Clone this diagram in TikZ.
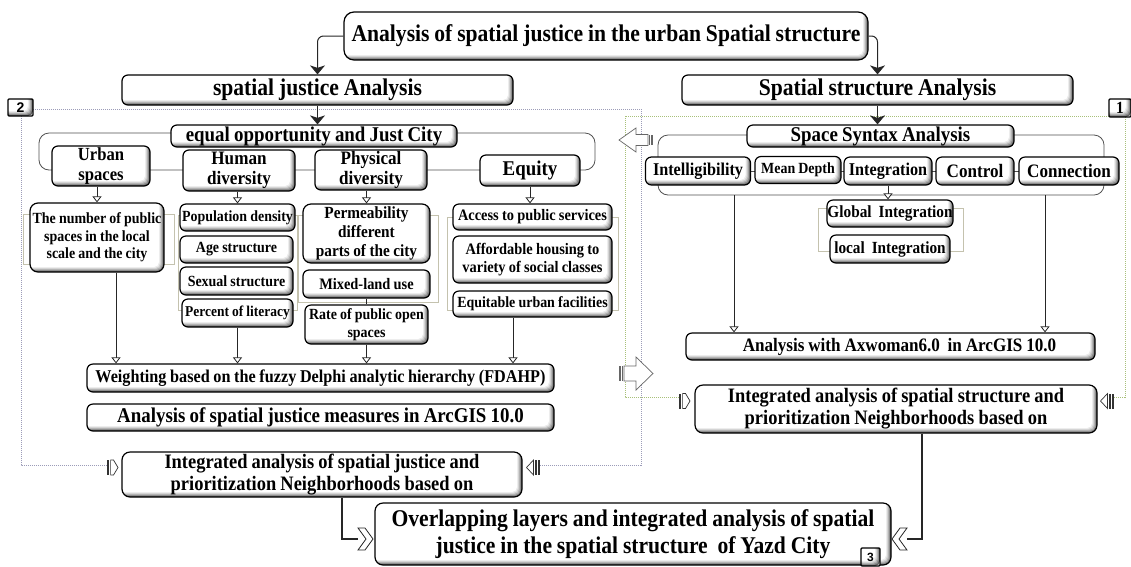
\documentclass[tikz,border=0pt]{standalone}
\usepackage{fontspec}
\setmainfont{Liberation Serif}[FakeStretch=0.9,WordSpace=0.9]
\setsansfont{Liberation Sans}
\usetikzlibrary{arrows.meta,calc}
\newcommand{\fsz}[2]{\fontsize{#1}{#2}\selectfont\bfseries}
\definecolor{dotB}{HTML}{9C9CB8}
\definecolor{dotG}{HTML}{A8C07A}
\definecolor{olv}{HTML}{C4C2AE}
\definecolor{brk}{HTML}{505050}
\tikzset{
  bev/.style={draw=black, line width=1.2pt, rounded corners=#1, fill=white,
    path picture={
      \foreach \d/\c in {0pt/62,1pt/46,2pt/31,3pt/18,4pt/8}{
        \fill[black!\c, rounded corners=5pt]
          ([xshift=-3pt,yshift=3pt]path picture bounding box.north west)
          rectangle ([xshift=-\d,yshift=\d]path picture bounding box.south east);
      }
      \fill[white, rounded corners=5pt]
          ([xshift=-3pt,yshift=3pt]path picture bounding box.north west)
          rectangle ([xshift=-5pt,yshift=5pt]path picture bounding box.south east);
    }},
  bev/.default=6pt,
  box/.style={bev=#1, inner sep=0pt, align=center},
  box/.default=6pt,
  lbl/.style={bev=1pt, inner sep=0pt, align=center},
  blk/.style={draw=black!85, line width=1pt, rounded corners=6pt,
    -{Stealth[length=9pt,width=15pt,inset=2.5pt]}},
  opn/.style={draw=black!85, line width=0.8pt,
    -{Triangle[open,length=6pt,width=9pt,fill=white]}},
  thin/.style={draw=black!85, line width=0.8pt},
  grpB/.style={draw=dotB, line width=0.8pt, dash pattern=on 0.8pt off 1.2pt},
  grpG/.style={draw=dotG, line width=0.8pt, dash pattern=on 0.8pt off 1.2pt},
  olvbr/.style={draw=olv, line width=0.8pt},
  rowbr/.style={draw=brk, line width=0.8pt, rounded corners=10pt},
  barrow/.pic={
    \draw[draw=black!60, line width=0.7pt, fill=white]
      (5,-7.5) -- (17,-7.5) -- (17,-16.5) -- (34,0) -- (17,16.5) -- (17,7.5) -- (5,7.5) -- cycle;
    \fill[black!60] (0,-7.5) rectangle (1.6,7.5);
    \fill[black!60] (2.6,-7.5) rectangle (4.2,7.5);
  },
  mkL/.pic={
    \fill[black!80] (0,-7.5) rectangle (2.2,7.5);
    \draw[black!80, line width=0.7pt, fill=white]
      (3.6,-7.5) -- (6.5,-7.5) -- (11,0) -- (6.5,7.5) -- (3.6,7.5) -- cycle;
  },
  mkR/.pic={
    \draw[black!80, line width=0.7pt, fill=white]
      (7.5,-7.5) -- (0.5,0) -- (7.5,7.5) -- cycle;
    \fill[black!80] (9.2,-7.5) rectangle (10.6,7.5);
    \fill[black!80] (12,-7.5) rectangle (13.6,7.5);
  },
  chev/.pic={
    \draw[black!85, line width=0.8pt, fill=white]
      (0,-11) -- (7,-11) -- (15,0) -- (7,11) -- (0,11) -- (8,0) -- cycle;
  },
}
\begin{document}
\begin{tikzpicture}[x=1pt,y=-1pt]
\useasboundingbox (0,0) rectangle (1131,566);

% group frames
\draw[grpB] (107,465) -- (21,465) -- (21,109) -- (641,109) -- (641,465) -- (540,465);
\draw[grpG] (679,397) -- (625,397) -- (625,116) -- (1125,116) -- (1125,397) -- (1114,397);

% brackets behind the rows
\draw[rowbr] (39,133) rectangle (595,170);
\draw[rowbr] (658,135) rectangle (1104,195);
\draw[brk, line width=0.8pt] (698,171) -- (1069,171);
\draw[olvbr] (23,214) rectangle (174,264);
\draw[olvbr] (178,215) rectangle (297,310);
\draw[olvbr] (298,215) rectangle (438,302);
\draw[olvbr] (447,217) rectangle (618,310);
\draw[olvbr] (818,208) rectangle (963,251);

% main boxes
\node[box=10pt, minimum width=524pt, minimum height=48pt, font=\fsz{24}{26}] (title) at (606,36)
  {Analysis of spatial justice in the urban Spatial structure};
\node[box, minimum width=391pt, minimum height=30pt, font=\fsz{24}{26}] (sja) at (317.5,90) {spatial justice Analysis};
\node[box, minimum width=391pt, minimum height=30pt, font=\fsz{24}{26}] (ssa) at (877.5,90) {Spatial structure Analysis};

% spatial justice side
\node[box, minimum width=286pt, minimum height=22pt, font=\fsz{21}{22}] (eqo) at (314,136) {equal opportunity and Just City};
\node[box, minimum width=98pt, minimum height=40pt, font=\fsz{18.5}{19.5}] (urban) at (101,166) {Urban\\spaces};
\node[box, minimum width=112pt, minimum height=41pt, font=\fsz{19}{20}] (human) at (239,170.5) {Human\\diversity};
\node[box, minimum width=112pt, minimum height=40pt, font=\fsz{19}{20}] (phys) at (371,170) {Physical\\diversity};
\node[box, minimum width=100pt, minimum height=31pt, font=\fsz{21}{21}] (equity) at (530,170.5) {Equity};

\node[box=8pt, minimum width=134pt, minimum height=69pt, font=\fsz{15.5}{17.5}] (pubsp) at (97,237.5)
  {The number of public\\spaces in the local\\scale and the city};
\node[box, minimum width=115pt, minimum height=27pt, font=\fsz{15.5}{17}] (popd) at (237.5,217.5) {Population density};
\node[box, minimum width=113pt, minimum height=27pt, font=\fsz{15.5}{17}] (age) at (236.5,249.5) {Age structure};
\node[box, minimum width=113pt, minimum height=28pt, font=\fsz{15.5}{17}] (sex) at (236.5,281) {Sexual structure};
\node[box, minimum width=111pt, minimum height=28pt, font=\fsz{15}{17}] (lit) at (237.5,313) {Percent of literacy};
\node[box=8pt, minimum width=127pt, minimum height=59pt, font=\fsz{17}{19}] (perm) at (366.5,233.5)
  {Permeability\\different\\parts of the city};
\node[box, minimum width=127pt, minimum height=28pt, font=\fsz{16}{17}] (mixed) at (366.5,284) {Mixed-land use};
\node[box, minimum width=123pt, minimum height=39pt, font=\fsz{15.5}{17.5}] (rate) at (366.5,324.5) {Rate of public open\\spaces};
\node[box, minimum width=159pt, minimum height=26pt, font=\fsz{16}{17}] (access) at (532.5,217) {Access to public services};
\node[box, minimum width=159pt, minimum height=47pt, font=\fsz{16}{17.5}] (afford) at (532.5,259.5)
  {Affordable housing to\\variety of social classes};
\node[box, minimum width=159pt, minimum height=26pt, font=\fsz{15.5}{17}] (equit) at (532.5,304) {Equitable urban facilities};

\node[box, minimum width=467pt, minimum height=28pt, font=\fsz{18}{20}] (wgt) at (320.5,378)
  {Weighting based on the fuzzy Delphi analytic hierarchy (FDAHP)};
\node[box, minimum width=467pt, minimum height=27pt, font=\fsz{21}{22}] (arc) at (320.5,417.5)
  {Analysis of spatial justice measures in ArcGIS 10.0};
\node[box=8pt, minimum width=400pt, minimum height=45pt, font=\fsz{20.5}{21.5}] (intJ) at (322,474.5)
  {Integrated analysis of spatial justice and\\prioritization Neighborhoods based on};

% spatial structure side
\node[box, minimum width=267pt, minimum height=22pt, font=\fsz{21}{22}] (ssx) at (880.5,136) {Space Syntax Analysis};
\node[box, minimum width=105pt, minimum height=28pt, font=\fsz{18}{19}] (intel) at (698,171) {Intelligibility};
\node[box, minimum width=86pt, minimum height=27pt, font=\fsz{15.5}{17}] (mean) at (798,170) {Mean Depth};
\node[box, minimum width=88pt, minimum height=28pt, font=\fsz{18}{19}] (integ) at (888,171) {Integration};
\node[box, minimum width=78pt, minimum height=28pt, font=\fsz{19}{20}] (ctrl) at (975,171) {Control};
\node[box, minimum width=100pt, minimum height=28pt, font=\fsz{19}{20}] (conn) at (1069,171) {Connection};
\node[box, minimum width=126pt, minimum height=27pt, font=\fsz{17}{18}] (glob) at (890,213.5) {Global\ \ Integration};
\node[box, minimum width=120pt, minimum height=28pt, font=\fsz{17}{18}] (loc) at (890,249) {local\ \ Integration};
\node[box, minimum width=409pt, minimum height=27pt, font=\fsz{19}{20}] (axw) at (890.5,346.5)
  {\hspace{18pt}Analysis with Axwoman6.0\ \ in ArcGIS 10.0};
\node[box=8pt, minimum width=402pt, minimum height=48pt, font=\fsz{20.5}{22}] (intS) at (896,409)
  {Integrated analysis of spatial structure and\\prioritization Neighborhoods based on};

% final box
\node[box=8pt, minimum width=516pt, minimum height=62pt, font=\fsz{24}{27}] (fin) at (633,534)
  {Overlapping layers and integrated analysis of spatial\\justice in the spatial structure\ \ of Yazd City};

% number labels
\node[lbl, minimum width=25pt, minimum height=17pt, font=\sffamily\bfseries\fontsize{14}{14}\selectfont] (n2) at (20.5,107.5) {2};
\node[lbl, minimum width=22pt, minimum height=18pt, font=\fsz{17}{17}] (n1) at (1120,108) {1};
\node[lbl, minimum width=19pt, minimum height=18pt, font=\sffamily\bfseries\fontsize{12}{12}\selectfont] (n3) at (870.5,557) {3};

% column positions of the long connectors
\coordinate (cA) at (116,0);
\coordinate (cE) at (513,0);
\coordinate (cJ) at (342,0);
\coordinate (cS) at (922,0);
\coordinate (bI) at (734,195);
\coordinate (bC) at (1045,195);
\coordinate (chvL) at (358,539);
\coordinate (chvR) at (907,539);

% connectors
\draw[blk] (title.west) -| (sja.north);
\draw[blk] (title.east) -| (ssa.north);
\draw[blk] (sja.south) -- (sja.south |- eqo.north);
\draw[blk] (ssa.south) -- (ssa.south |- ssx.north);

\draw[opn] (pubsp.north |- urban.south) -- (pubsp.north);
\draw[opn] (popd.north |- human.south) -- (popd.north);
\draw[opn] (perm.north |- phys.south) -- (perm.north);
\draw[opn] (equity.south) -- (equity.south |- access.north);

\draw[opn] (pubsp.south -| cA) -- (wgt.north -| cA);
\draw[opn] (lit.south) -- (lit.south |- wgt.north);
\draw[thin] (mixed.south) -- (rate.north);
\draw[opn] (rate.south) -- (rate.south |- wgt.north);
\draw[opn] (equit.south -| cE) -- (wgt.north -| cE);

\draw[opn] (integ.south) -- (integ.south |- glob.north);
\draw[opn] (bI) -- (axw.north -| bI);
\draw[opn] (bC) -- (axw.north -| bC);

\draw[thin, line width=1.2pt] (intJ.south -| cJ) |- (chvL);
\draw[thin, line width=1.2pt] (intS.south -| cS) |- (chvR);
\pic at (chvL) {chev};
\pic[xscale=-1] at (chvR) {chev};

% block arrows between the two groups
\pic[xscale=-1, yscale=0.73] at (653,140) {barrow};
\pic at (619,373.5) {barrow};

% end markers on the group frames
\pic at (107,467.5) {mkL};
\pic at (526,467.5) {mkR};
\pic at (679,401) {mkL};
\pic at (1100,401) {mkR};
\end{tikzpicture}
\end{document}
